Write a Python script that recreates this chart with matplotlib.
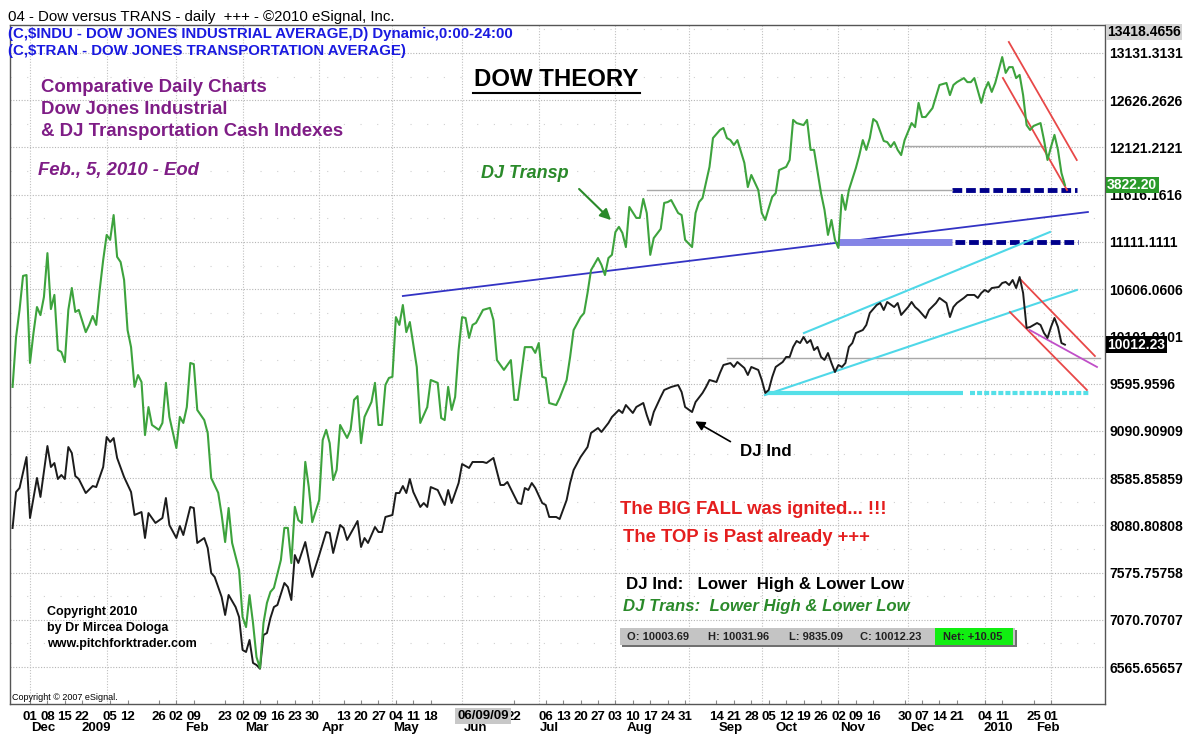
import matplotlib
matplotlib.use('Agg')
import matplotlib.pyplot as plt
from matplotlib.patches import Rectangle
from matplotlib.lines import Line2D

plt.rcParams['font.family'] = ['Liberation Sans', 'DejaVu Sans']

# x = trading day number counted from 1 Dec 2008 (day 0)
ind_days = [-5, -4, -3, -1, 0, 2, 3, 5, 6, 7, 8, 9, 10, 11, 12, 13, 14, 16, 18, 19,
            21, 22, 23, 24, 25, 27, 29, 30, 32, 33, 34, 36, 38, 39, 40, 42, 43, 44, 46, 47,
            48, 50, 51, 52, 53, 55, 56, 57, 59, 60, 61, 62, 63, 64, 65, 66, 67, 68, 69, 70,
            71, 73, 74, 75, 76, 77, 79, 81, 83, 85, 86, 87, 89, 90, 91, 94, 95, 96, 97, 99,
            100, 101, 102, 104, 105, 106, 107, 108, 109, 110, 112, 113, 114, 115, 117, 119, 120, 121, 123, 124,
            126, 127, 130, 131, 133, 135, 136, 137, 140, 141, 142, 143, 144, 145, 147, 148, 149, 151, 152, 154,
            155, 156, 158, 160, 161, 163, 164, 166, 167, 169, 170, 171, 173, 174, 176, 177, 178, 179, 181, 182,
            184, 186, 187, 188, 190, 191, 193, 194, 195, 197, 198, 199, 201, 202, 203, 205, 206, 207, 209, 210,
            211, 212, 213, 214, 216, 217, 218, 219, 220, 221, 222, 223, 224, 225, 226, 227, 228, 229, 230, 231,
            232, 233, 234, 235, 236, 237, 239, 240, 241, 243, 244, 245, 246, 248, 249, 250, 252, 253, 254, 255,
            257, 258, 260, 261, 263, 264, 265, 266, 268, 269, 271, 272, 273, 274, 275, 276, 278, 279, 280, 281,
            282, 283, 284, 285, 286, 287, 289, 290, 291, 292, 293, 294, 295, 296, 297]
ind_close = [8052, 8437, 8480, 8811, 8159, 8587, 8384, 8929, 8704, 8747, 8576, 8619, 8576, 8918, 8854, 8608, 8576, 8426, 8501, 8490,
             8704, 9025, 8972, 9014, 8801, 8597, 8437, 8191, 8223, 7945, 8212, 8106, 8159, 8373, 8084, 7945, 8073, 7977, 8277, 8266,
             7892, 7945, 7838, 7571, 7528, 7314, 7122, 7336, 7207, 7100, 6748, 6726, 6855, 6609, 6587, 6547, 6908, 6929, 7090, 7207,
             7229, 7464, 7421, 7282, 7763, 7678, 7902, 7528, 7763, 8009, 7999, 7785, 8084, 8052, 7924, 8127, 7849, 7945, 7892, 8063,
             8009, 8009, 8170, 8191, 8426, 8426, 8501, 8426, 8576, 8437, 8277, 8319, 8277, 8490, 8458, 8298, 8458, 8319, 8533, 8736,
             8694, 8758, 8758, 8747, 8801, 8512, 8512, 8544, 8319, 8309, 8480, 8458, 8533, 8480, 8319, 8298, 8170, 8170, 8148, 8351,
             8533, 8672, 8811, 8918, 9068, 9121, 9079, 9175, 9239, 9314, 9282, 9367, 9282, 9346, 9389, 9260, 9153, 9292, 9453, 9528,
             9560, 9581, 9506, 9346, 9292, 9399, 9496, 9560, 9635, 9613, 9710, 9795, 9816, 9774, 9827, 9763, 9688, 9774, 9742, 9635,
             9496, 9528, 9667, 9774, 9827, 9881, 9881, 9988, 10052, 10030, 10095, 10030, 10062, 9955, 9988, 9881, 9849, 9923, 9816, 9720,
             9795, 9774, 9816, 9988, 10030, 10137, 10169, 10223, 10351, 10437, 10458, 10383, 10469, 10415, 10458, 10330, 10415, 10469, 10415, 10383,
             10298, 10383, 10458, 10512, 10458, 10308, 10415, 10458, 10512, 10544, 10544, 10512, 10565, 10597, 10576, 10618, 10629, 10672, 10683, 10650,
             10704, 10618, 10736, 10565, 10191, 10201, 10244, 10223, 10137, 10084, 10201, 10298, 10201, 10030, 10012.23]

tran_days = [-5, -4, -3, -2, -1, 0, 1, 2, 3, 4, 5, 6, 7, 8, 9, 10, 11, 12, 13, 14,
             16, 17, 18, 19, 20, 21, 22, 23, 24, 25, 26, 27, 28, 29, 30, 31, 32, 33, 34, 35,
             37, 38, 39, 40, 42, 43, 44, 45, 46, 47, 48, 50, 51, 52, 54, 55, 56, 57, 58, 60,
             61, 62, 63, 64, 65, 66, 67, 68, 69, 70, 72, 73, 74, 75, 76, 77, 78, 79, 80, 81,
             83, 84, 85, 86, 87, 88, 89, 91, 92, 93, 94, 95, 96, 98, 99, 100, 101, 102, 103, 104,
             105, 106, 107, 108, 109, 111, 112, 114, 115, 117, 118, 119, 120, 121, 122, 123, 124, 125, 126, 127,
             128, 130, 132, 133, 134, 136, 138, 139, 140, 142, 144, 145, 146, 147, 148, 149, 151, 152, 154, 155,
             156, 158, 159, 160, 161, 163, 164, 165, 166, 167, 168, 169, 170, 171, 172, 174, 175, 176, 177, 178,
             179, 181, 182, 183, 184, 186, 187, 188, 190, 191, 192, 193, 195, 196, 198, 199, 200, 201, 202, 203,
             205, 206, 207, 209, 210, 211, 212, 213, 214, 215, 217, 218, 219, 220, 222, 223, 224, 225, 227, 228,
             229, 230, 231, 232, 233, 234, 235, 237, 238, 239, 240, 241, 242, 243, 245, 246, 247, 248, 249, 250,
             251, 253, 254, 255, 256, 257, 259, 261, 263, 264, 265, 266, 268, 269, 270, 271, 273, 274, 275, 276,
             277, 279, 280, 281, 282, 283, 284, 285, 286, 287, 288, 290, 291, 292, 293, 294, 295, 296, 297]
tran_close = [3122, 3295, 3389, 3507, 3510, 3205, 3309, 3399, 3371, 3434, 3586, 3392, 3441, 3250, 3243, 3208, 3389, 3465, 3382, 3389,
              3312, 3337, 3368, 3337, 3458, 3562, 3649, 3632, 3718, 3573, 3555, 3493, 3319, 3260, 3122, 3163, 3139, 2955, 3052, 2990,
              2973, 2997, 3136, 3018, 2910, 3018, 2997, 3052, 3205, 3201, 3042, 3007, 2962, 2806, 2755, 2678, 2584, 2702, 2581, 2487,
              2324, 2289, 2400, 2303, 2185, 2147, 2303, 2373, 2411, 2425, 2522, 2633, 2633, 2511, 2706, 2660, 2650, 2862, 2775, 2653,
              2730, 2938, 2973, 2927, 2799, 2834, 2990, 2945, 2973, 3077, 3090, 2927, 3018, 3070, 3136, 2990, 2990, 3129, 3153, 3157,
              3364, 3337, 3406, 3312, 3347, 3191, 2997, 3052, 3146, 3136, 3014, 3007, 3122, 3042, 3087, 3250, 3364, 3361, 3292, 3337,
              3344, 3389, 3396, 3354, 3215, 3181, 3215, 3077, 3077, 3260, 3260, 3240, 3274, 3157, 3153, 3066, 3059, 3084, 3146, 3226,
              3319, 3364, 3378, 3448, 3527, 3569, 3545, 3510, 3569, 3580, 3659, 3677, 3656, 3607, 3746, 3708, 3708, 3774, 3725, 3580,
              3638, 3670, 3760, 3763, 3770, 3725, 3718, 3632, 3607, 3725, 3763, 3777, 3885, 3985, 4013, 4020, 3985, 3978, 3961, 3978,
              3899, 3815, 3857, 3805, 3725, 3701, 3742, 3781, 3794, 3874, 3885, 3909, 4048, 4037, 4030, 4048, 3944, 3944, 3794, 3736,
              3649, 3701, 3632, 3604, 3788, 3736, 3805, 3881, 3926, 3978, 3944, 3985, 4051, 4041, 3975, 3971, 3954, 3971, 3944, 3926,
              3978, 4037, 4023, 4107, 4058, 4058, 4089, 4169, 4176, 4134, 4169, 4179, 4193, 4179, 4179, 4193, 4107, 4152, 4179, 4145,
              4176, 4266, 4211, 4231, 4231, 4193, 4204, 4134, 4030, 4013, 4027, 4037, 3978, 3909, 3954, 3996, 3944, 3864, 3822.20]

price_ticks = [6565.65657, 7070.70707, 7575.75758, 8080.80808, 8585.85859, 9090.90909, 9595.9596,
               10101.0101, 10606.0606, 11111.1111, 11616.1616, 12121.2121, 12626.2626, 13131.3131]
price_labels = ['6565.65657', '7070.70707', '7575.75758', '8080.80808', '8585.85859', '9090.90909', '9595.9596',
                '10101.0101', '10606.0606', '11111.1111', '11616.1616', '12121.2121', '12626.2626', '13131.3131']

week_days = [0, 5, 10, 15, 23, 28, 37, 42, 47, 56, 61, 66, 71, 76, 81, 90, 95, 100, 105, 110, 115,
             139, 148, 153, 158, 163, 168, 173, 178, 183, 188, 197, 202, 207, 212, 217, 222, 227, 232,
             237, 242, 251, 256, 261, 266, 274, 279, 288, 293]
week_labels = ['01', '08', '15', '22', '05', '12', '26', '02', '09', '23', '02', '09', '16', '23', '30',
               '13', '20', '27', '04', '11', '18', '22', '06', '13', '20', '27', '03', '10', '17', '24', '31',
               '14', '21', '28', '05', '12', '19', '26', '02', '09', '16', '30', '07', '14', '21', '04', '11',
               '25', '01']
month_pos = [3.7, 19, 48, 65, 87, 108, 128, 149, 175, 201, 217, 236, 256, 278, 292]
month_labels = ['Dec', '2009', 'Feb', 'Mar', 'Apr', 'May', 'Jun', 'Jul', 'Aug', 'Sep', 'Oct', 'Nov',
                'Dec', '2010', 'Feb']
month_starts = [0, 22, 42, 61, 83, 104, 124, 146, 168, 189, 210, 232, 252, 274, 293]

# hand drawn studies: (day, DJIA level) end points
blue_trend = ([107, 303.6], [10533, 11431])
red_lines = [([280.9, 300.4], [13249, 11987]), ([279.2, 297.6], [12864, 11666]),
             ([284.4, 305.6], [10704, 9891]), ([281.2, 303.3], [10362, 9528])]
magenta_line = ([286.9, 306.2], [10169, 9774])
cyan_up = ([222.1, 292.7], [10137, 11217])
cyan_mid = ([210.9, 300.4], [9474, 10597])


def px(x, y):
    return x / 1192, 1 - y / 736


fig = plt.figure(figsize=(11.92, 7.36), dpi=100)
ax = fig.add_axes([10 / 1192, 1 - 704 / 736, 1095 / 1192, 679 / 736])
ax.set_xlim(-5.74, 308.5)
ax.set_ylim(6170.1, 13430.7)
ax2 = ax.twinx()
ax2.set_ylim(2022.3, 4377.1)
ax2.axis('off')

for s in ax.spines.values():
    s.set_color('#555555')
    s.set_linewidth(1)

# grid
for t in price_ticks:
    ax.axhline(t, color='#b5b5b5', lw=0.8, ls=(0, (1, 1.5)), zorder=0)
    ax.axhline(t + 252.5, color='#d0d0d0', lw=0.8, ls=(0, (1, 14)), zorder=0)
for d in month_starts:
    ax.axvline(d, color='#c0c0c0', lw=0.8, ls=(0, (1, 1.5)), zorder=0)

# studies
ax.plot(*blue_trend, color='#3333c4', lw=1.3)
ax.plot([232, 264.6], [11110, 11110], color='#8585e6', lw=5, solid_capstyle='butt')
ax.plot([265.4, 300.7], [11110, 11110], color='#00008b', lw=3.5, ls=(0, (2, 0.8)))
ax.plot([264.6, 300.4], [11661, 11661], color='#00008b', lw=3.5, ls=(0, (2, 0.8)))
ax.plot([177, 264.6], [11666, 11666], color='#a8a8a8', lw=1)
ax.plot([251, 291], [12137, 12137], color='#a8a8a8', lw=1)
ax.plot([200, 307], [9870, 9870], color='#a8a8a8', lw=1)
ax.plot(*cyan_up, color='#4fd8e8', lw=1.5)
ax.plot(*cyan_mid, color='#4fd8e8', lw=1.5)
ax.plot([210.9, 267.7], [9496, 9496], color='#55e0e8', lw=3, solid_capstyle='butt')
ax.plot([269.7, 304.2], [9496, 9496], color='#55e0e8', lw=3, ls=(0, (1.2, 0.5)))
for xs, ys in red_lines:
    ax.plot(xs, ys, color='#e84848', lw=1.3)
ax.plot(*magenta_line, color='#c04fc8', lw=1.3)

# series
ax.plot(ind_days, ind_close, color='#1c1c1c', lw=1.4, zorder=3)
ax2.plot(tran_days, tran_close, color='#3da33d', lw=1.5, zorder=3)

# axes ticks
ax.yaxis.tick_right()
ax.set_yticks(price_ticks)
ax.set_yticklabels(price_labels, fontsize=10, fontweight='bold')
ax.tick_params(axis='y', length=0, pad=3)
ax.set_xticks(week_days)
ax.set_xticklabels(week_labels, fontsize=9.5, fontweight='bold')
ax.tick_params(axis='x', length=3, direction='in', pad=5, color='#888888')
for p, m in zip(month_pos, month_labels):
    ax.text(p, -0.036, m, transform=ax.get_xaxis_transform(), ha='center', va='center',
            fontsize=9.5, fontweight='bold')
ax.text(130, -0.018, '06/09/09', transform=ax.get_xaxis_transform(), ha='center', va='center',
        fontsize=9.5, fontweight='bold', bbox=dict(facecolor='#c8c8c8', edgecolor='none', pad=1.5))

# value boxes at right (they cover part of the scale labels, as in the source chart)
ax.text(1.002, ind_close[-1], '10012.23', transform=ax.get_yaxis_transform(), va='center',
        fontsize=10, fontweight='bold', color='white',
        bbox=dict(facecolor='black', edgecolor='none', pad=1))
ax2.text(1.002, tran_close[-1], '3822.20', transform=ax2.get_yaxis_transform(), va='center',
         fontsize=10, fontweight='bold', color='white',
         bbox=dict(facecolor='#2a9a2a', edgecolor='none', pad=1))
fig.text(*px(1107, 32), '13418.4656', va='center', fontsize=10, fontweight='bold',
         bbox=dict(facecolor='#d4d4d4', edgecolor='none', pad=1))

# header
fig.text(*px(8, 17), '04 - Dow versus TRANS - daily  +++ - \u00a92010 eSignal, Inc.', va='center', fontsize=10.8)
fig.text(*px(8, 34), '(C,$INDU - DOW JONES INDUSTRIAL AVERAGE,D) Dynamic,0:00-24:00', va='center',
         fontsize=10.8, fontweight='bold', color='#1a1ae0')
fig.text(*px(8, 51), '(C,$TRAN - DOW JONES TRANSPORTATION AVERAGE)', va='center',
         fontsize=10.8, fontweight='bold', color='#1a1ae0')

# notes
purple = '#7f1d86'
for yy, s in [(88, 'Comparative Daily Charts'), (109, 'Dow Jones Industrial'),
              (131, '& DJ Transportation Cash Indexes')]:
    fig.text(*px(41, yy), s, va='center', fontsize=13.4, fontweight='bold', color=purple)
fig.text(*px(38, 171), 'Feb., 5, 2010 - Eod', va='center', fontsize=13.3, fontweight='bold',
         fontstyle='italic', color=purple)
fig.text(*px(556, 80), 'DOW THEORY', ha='center', va='center', fontsize=17.3, fontweight='bold')
fig.add_artist(Line2D([473 / 1192, 640 / 1192], [1 - 93 / 736, 1 - 93 / 736], color='black', lw=1.5))

fig.text(*px(525, 173), 'DJ Transp', ha='center', va='center', fontsize=13, fontweight='bold',
         fontstyle='italic', color='#2a8a2a')
ax.annotate('', xy=(167.3, 11324), xytext=(157, 11698),
            arrowprops=dict(arrowstyle='-|>', color='#2a8a2a', lw=1.5, mutation_scale=16))
fig.text(*px(766, 452), 'DJ Ind', ha='center', va='center', fontsize=12.2, fontweight='bold')
ax.annotate('', xy=(190.2, 9207), xytext=(201.7, 8961),
            arrowprops=dict(arrowstyle='-|>', color='black', lw=1.2, mutation_scale=14))

fig.text(*px(620, 510), 'The BIG FALL was ignited... !!!', va='center', fontsize=13.3,
         fontweight='bold', color='#e41e1e')
fig.text(*px(623, 538), 'The TOP is Past already +++', va='center', fontsize=13.3,
         fontweight='bold', color='#e41e1e')
fig.text(*px(626, 584), 'DJ Ind:   Lower  High & Lower Low', va='center', fontsize=12.2, fontweight='bold')
fig.text(*px(623, 607), 'DJ Trans:  Lower High & Lower Low', va='center', fontsize=12.1,
         fontweight='bold', fontstyle='italic', color='#2a8a2a')

# OHLC info bar
fig.add_artist(Rectangle(px(622, 647), 395 / 1192, 17 / 736, transform=fig.transFigure,
                         facecolor='#707070', edgecolor='none'))
fig.add_artist(Rectangle(px(620, 645), 395 / 1192, 17 / 736, transform=fig.transFigure,
                         facecolor='#c4c4c4', edgecolor='none'))
fig.add_artist(Rectangle(px(935, 645), 78 / 1192, 17 / 736, transform=fig.transFigure,
                         facecolor='#11ee11', edgecolor='none'))
for xx, s in [(627, 'O: 10003.69'), (708, 'H: 10031.96'), (789, 'L: 9835.09'),
              (860, 'C: 10012.23'), (943, 'Net: +10.05')]:
    fig.text(*px(xx, 636.5), s, va='center', fontsize=8, fontweight='bold', color='#222222')

for yy, s in [(612, 'Copyright 2010'), (628, 'by Dr Mircea Dologa'), (644, 'www.pitchforktrader.com')]:
    fig.text(*px(47, yy), s, va='center', fontsize=9, fontweight='bold')
fig.text(*px(12, 697), 'Copyright \u00a9 2007 eSignal.', va='center', fontsize=6.5)

fig.savefig('out.png', dpi=100)
